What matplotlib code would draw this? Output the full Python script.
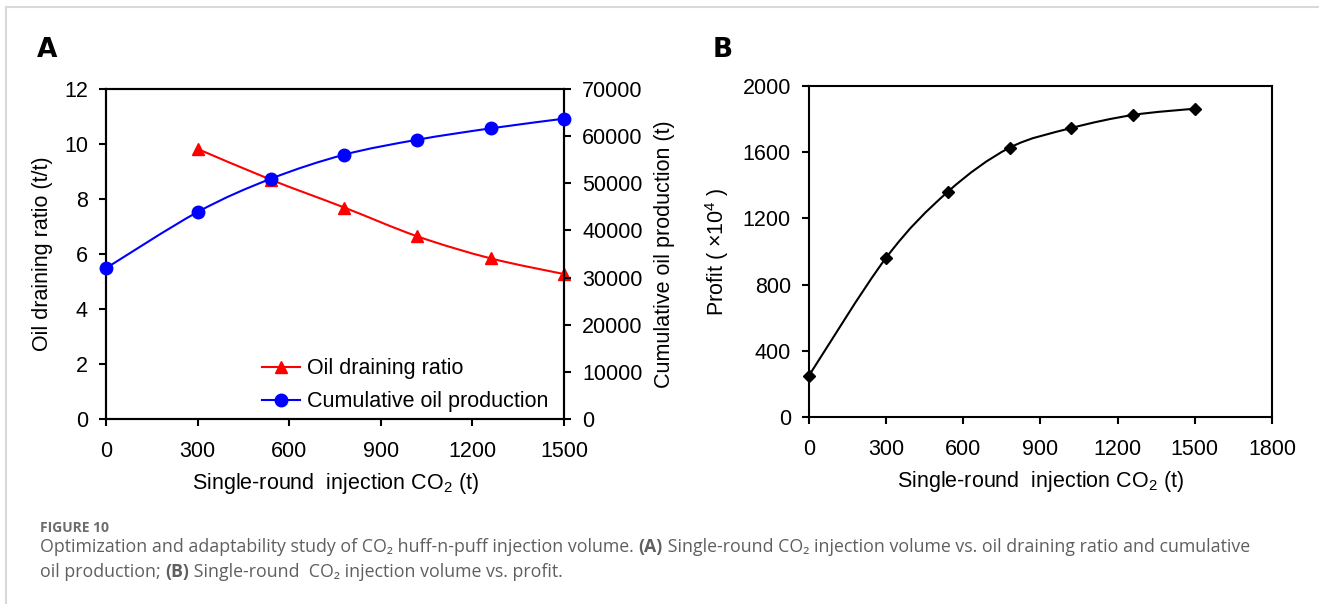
import matplotlib
matplotlib.use("Agg")
import matplotlib.pyplot as plt
from matplotlib.path import Path
from matplotlib.patches import PathPatch
from matplotlib import font_manager
from matplotlib.lines import Line2D

#Data
co2_inj = [0, 300, 540, 780, 1020, 1260, 1500]
drain_x = [300, 540, 780, 1020, 1260, 1500]
drain_ratio = [9.82, 8.70, 7.69, 6.64, 5.84, 5.27]
cum_oil = [32000, 43900, 50960, 56060, 59240, 61650, 63700]
profit = [250, 962, 1361, 1627, 1746, 1825, 1863]

#Pick the chart font (narrow one if it is there)
names = set(f.name for f in font_manager.fontManager.ttflist)
chart_font = 'Liberation Sans Narrow' if 'Liberation Sans Narrow' in names else 'Liberation Sans'
cap_font = 'Open Sans' if 'Open Sans' in names else 'DejaVu Sans'

plt.rcParams['font.family'] = [chart_font, 'DejaVu Sans']
plt.rcParams['mathtext.fontset'] = 'custom'
plt.rcParams['mathtext.rm'] = chart_font
plt.rcParams['mathtext.it'] = chart_font
plt.rcParams['mathtext.bf'] = chart_font
FS = 15.5


#Smooth line like excel (catmull-rom -> bezier), drawn by matplotlib
def smooth_line(ax, xs, ys, color, lw=1.5):
    verts = [(xs[0], ys[0])]
    codes = [Path.MOVETO]
    n = len(xs)
    for i in range(n - 1):
        x0, y0 = (xs[i - 1], ys[i - 1]) if i > 0 else (xs[i], ys[i])
        x1, y1 = xs[i], ys[i]
        x2, y2 = xs[i + 1], ys[i + 1]
        x3, y3 = (xs[i + 2], ys[i + 2]) if i + 2 < n else (x2, y2)
        c1 = (x1 + (x2 - x0) / 6.0, y1 + (y2 - y0) / 6.0)
        c2 = (x2 - (x3 - x1) / 6.0, y2 - (y3 - y1) / 6.0)
        verts += [c1, c2, (x2, y2)]
        codes += [Path.CURVE4] * 3
    ax.add_patch(PathPatch(Path(verts, codes), facecolor='none', edgecolor=color, lw=lw, zorder=2))


def style_axes(ax):
    for s in ax.spines.values():
        s.set_linewidth(1.5)
        s.set_color('black')
    ax.tick_params(direction='out', length=5, width=1.5, labelsize=FS, pad=8)
    ax.tick_params(axis='x', pad=11)


fig = plt.figure(figsize=(13.19, 6.04), dpi=100)

#Panel A
axA = fig.add_axes([0.0804, 0.3063, 0.3472, 0.5464])
axA2 = axA.twinx()
smooth_line(axA, drain_x, drain_ratio, 'red')
axA.plot(drain_x, drain_ratio, linestyle='None', marker='^', color='red', markersize=9, zorder=3, clip_on=False)
smooth_line(axA2, co2_inj, cum_oil, 'blue')
axA2.plot(co2_inj, cum_oil, linestyle='None', marker='o', color='blue', markersize=9, zorder=3, clip_on=False)
axA.set_xlim(0, 1500)
axA.set_ylim(0, 12)
axA2.set_ylim(0, 70000)
axA.set_xticks(range(0, 1501, 300))
axA.set_yticks(range(0, 13, 2))
axA2.set_yticks(range(0, 70001, 10000))
style_axes(axA)
style_axes(axA2)
axA.set_xlabel('Single-round  injection CO$_2$ (t)', fontsize=FS, labelpad=6)
axA.set_ylabel('Oil draining ratio (t/t)', fontsize=FS, labelpad=8)
axA2.set_ylabel('Cumulative oil production (t)', fontsize=FS, labelpad=8)
h1 = Line2D([], [], color='red', marker='^', markersize=9, lw=1.5)
h2 = Line2D([], [], color='blue', marker='o', markersize=9, lw=1.5)
leg = axA2.legend([h1, h2], ['Oil draining ratio', 'Cumulative oil production'],
                  loc='lower left', bbox_to_anchor=(0.318, -0.012), frameon=False, borderpad=0,
                  fontsize=FS, handlelength=1.75, handletextpad=0.3, labelspacing=0.55)
fig.text(0.028, 0.918, 'A', fontsize=19, fontweight='bold', family='DejaVu Sans', va='center')

#Panel B
axB = fig.add_axes([0.6133, 0.3096, 0.3510, 0.5480])
smooth_line(axB, co2_inj, profit, 'black')
axB.plot(co2_inj, profit, linestyle='None', marker='D', color='black', markersize=6.5, zorder=3, clip_on=False)
axB.set_xlim(0, 1800)
axB.set_ylim(0, 2000)
axB.set_xticks(range(0, 1801, 300))
axB.set_yticks(range(0, 2001, 400))
style_axes(axB)
axB.set_xlabel('Single-round  injection CO$_2$ (t)', fontsize=FS, labelpad=6)
axB.set_ylabel('Profit ( \u00d710$^4$ )', fontsize=FS, labelpad=8)
fig.text(0.540, 0.918, 'B', fontsize=19, fontweight='bold', family='DejaVu Sans', va='center')

#Frame lines of the page
fig.add_artist(Line2D([6 / 1319, 6 / 1319], [0, 1 - 7 / 604], color='#d9d9d9', lw=1.5))
fig.add_artist(Line2D([6 / 1319, 1], [1 - 7 / 604, 1 - 7 / 604], color='#d9d9d9', lw=1.5))

#Caption, with bold parts placed one after another
fig.text(40 / 1319, 1 - 528 / 604, 'FIGURE 10', fontsize=10, fontweight='bold',
         color='#6d6d6d', family=[cap_font, 'DejaVu Sans'], va='center')
cap_lines = [
    [('Optimization and adaptability study of CO\u2082 huff-n-puff injection volume. ', 'normal'),
     ('(A)', 'bold'),
     (' Single-round CO\u2082 injection volume vs. oil draining ratio and cumulative', 'normal')],
    [('oil production; ', 'normal'), ('(B)', 'bold'),
     (' Single-round  CO\u2082 injection volume vs. profit.', 'normal')],
]
cap_y = [547, 572]
fig.canvas.draw()
renderer = fig.canvas.get_renderer()
for parts, ypx in zip(cap_lines, cap_y):
    xpx = 40
    for txt, wt in parts:
        t = fig.text(xpx / 1319, 1 - ypx / 604, txt, fontsize=12.8, fontweight=wt,
                     color='#5f5f5f', family=[cap_font, 'DejaVu Sans'], va='center')
        bb = t.get_window_extent(renderer)
        xpx += bb.width

fig.savefig('out.png', dpi=100)
